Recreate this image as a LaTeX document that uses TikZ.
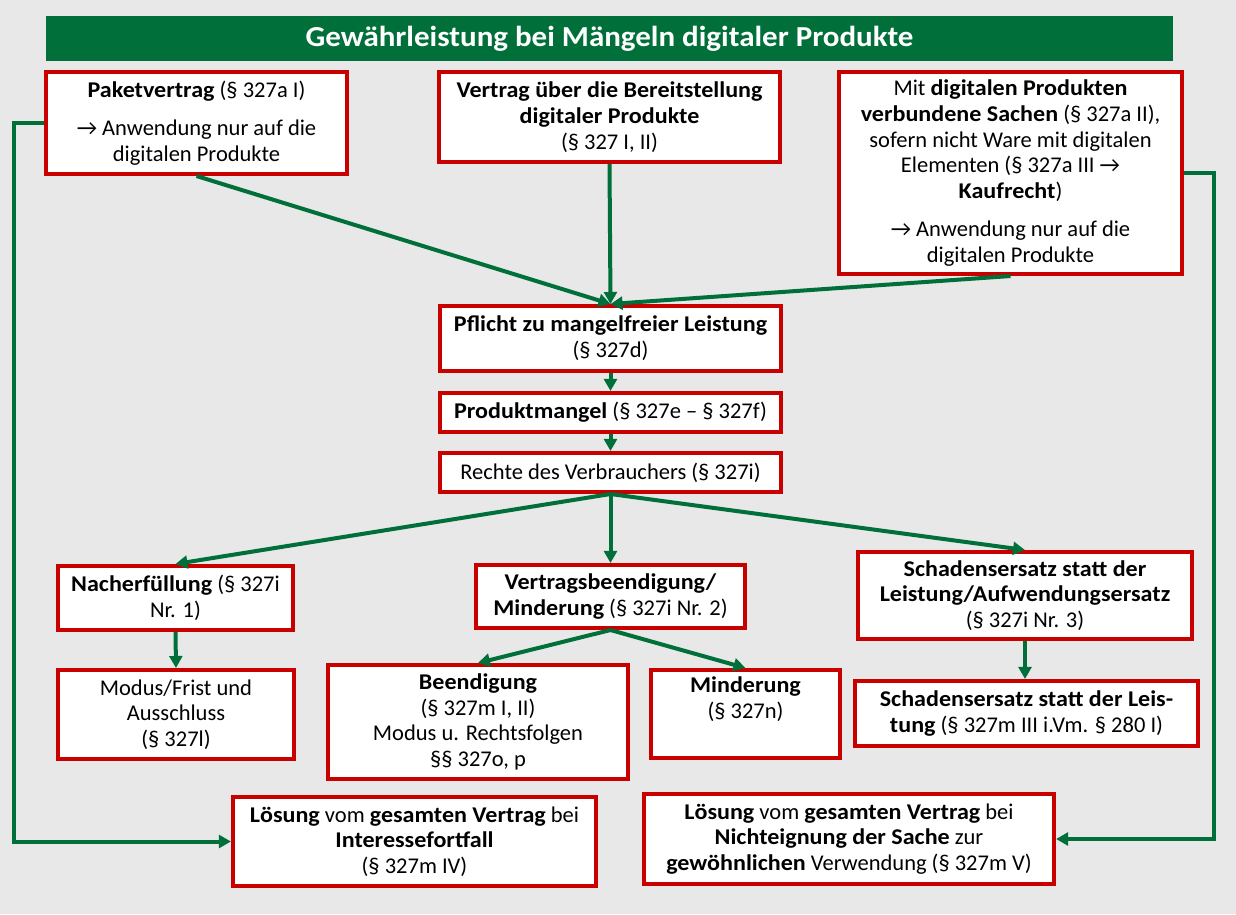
\documentclass[tikz,border=0pt]{standalone}
\usepackage{fontspec}
\setmainfont{Carlito}[BoldFeatures={FakeStretch=1.07}]
\usetikzlibrary{arrows.meta}
\definecolor{gruen}{HTML}{006F3A}
\definecolor{rot}{HTML}{C80000}
\definecolor{grau}{HTML}{E8E8E8}

\begin{document}
\begin{tikzpicture}[x=0.025cm,y=-0.025cm,
  kasten/.style={draw=rot,fill=white,line width=0.1cm,align=center,inner sep=0pt,
    font=\fontsize{16}{18.3}\selectfont},
  pfeil/.style={color=gruen,line width=0.1cm,-{Triangle[length=0.3cm,width=0.32cm]}}]
\fill[grau] (0,0) rectangle (1236,914);
\node[fill=gruen,text=white,minimum width=28.175cm,minimum height=1.125cm,
  font=\fontsize{20.6}{24}\selectfont\bfseries] (T) at (609.5,38.5)
  {Gewährleistung bei Mängeln digitaler Produkte};
\node[kasten,minimum width=7.525cm,minimum height=2.55cm] (A) at (196.5,123)
  {\textbf{Paketvertrag} (§ 327a I)\\[0.3cm] → Anwendung nur auf die\\ digitalen Produkte};
\node[kasten,minimum width=8.525cm,minimum height=2.25cm] (B) at (609.5,117)
  {\textbf{Vertrag über die Bereitstellung}\\ \textbf{digitaler Produkte}\\ (§ 327 I, II)};
\node[kasten,minimum width=8.575cm,minimum height=5.05cm] (C) at (1010.5,173)
  {Mit \textbf{digitalen Produkten}\\ \textbf{verbundene Sachen} (§ 327a II),\\ sofern nicht Ware mit digitalen\\
   Elementen (§ 327a III →\\ \textbf{Kaufrecht})\\[0.3cm] → Anwendung nur auf die\\ digitalen Produkte};
\node[kasten,minimum width=8.525cm,minimum height=1.625cm] (D) at (610.5,338.5)
  {\textbf{Pflicht zu mangelfreier Leistung}\\ (§ 327d)};
\node[kasten,minimum width=8.525cm,minimum height=0.975cm] (E) at (610.5,412.5)
  {\textbf{Produktmangel} (§ 327e – § 327f)};
\node[kasten,minimum width=8.525cm,minimum height=0.975cm] (F) at (610.5,472.5)
  {Rechte des Verbrauchers (§ 327i)};
\node[kasten,minimum width=5.875cm,minimum height=1.6cm] (G) at (175.5,598)
  {\textbf{Nacherfüllung} (§ 327i\\ Nr. 1)};
\node[kasten,minimum width=6.725cm,minimum height=1.575cm] (H) at (610.5,596.5)
  {\textbf{Vertragsbeendigung/}\\ \textbf{Minderung} (§ 327i Nr. 2)};
\node[kasten,minimum width=8.35cm,minimum height=2.175cm] (I) at (1025,595.5)
  {\textbf{Schadensersatz statt der}\\ \textbf{Leistung/Aufwendungsersatz}\\ (§ 327i Nr. 3)};
\node[kasten,minimum width=5.9cm,minimum height=2.225cm] (J) at (176,714.5)
  {Modus/Frist und\\ Ausschluss\\ (§ 327l)};
\node[kasten,minimum width=7.5cm,minimum height=2.85cm] (K) at (478,722)
  {\textbf{Beendigung}\\ (§ 327m I, II)\\ Modus u. Rechtsfolgen\\ §§ 327o, p};
\node[kasten,minimum width=4.725cm,minimum height=2.2cm] (L) at (745.5,714)
  {\textbf{Minderung}\\ (§ 327n)\\ \strut};
\node[kasten,minimum width=8.575cm,minimum height=1.625cm] (M) at (1026.5,713.5)
  {\textbf{Schadensersatz statt der Leis-}\\ \textbf{tung} (§ 327m III i.Vm. § 280 I)};
\node[kasten,minimum width=9.075cm,minimum height=2.225cm] (N) at (414.5,841.5)
  {\textbf{Lösung} vom \textbf{gesamten Vertrag} bei\\ \textbf{Interessefortfall}\\ (§ 327m IV)};
\node[kasten,minimum width=10.25cm,minimum height=2.25cm] (O) at (849,839)
  {\textbf{Lösung} vom \textbf{gesamten Vertrag} bei\\ \textbf{Nichteignung der Sache} zur\\
   \textbf{gewöhnlichen} Verwendung (§ 327m V)};
\path[pfeil]
(A.south) edge (D.north)
(B.south) edge (D.north)
(C.south) edge (D.north)
(D.south) edge (E.north)
(E.south) edge (F.north)
(F.south) edge (G.north)
(F.south) edge (H.north)
(F.south) edge (I.north)
(G.south) edge (J.north)
(H.south) edge (K.north)
(H.south) edge (L.north)
(I.south) edge (I.south |- M.north);
\draw[pfeil] (A.west) -- ++(-30,0) |- (N.west);
\draw[pfeil] (C.east) -- ++(30,0) |- (O.east);
\end{tikzpicture}
\end{document}
